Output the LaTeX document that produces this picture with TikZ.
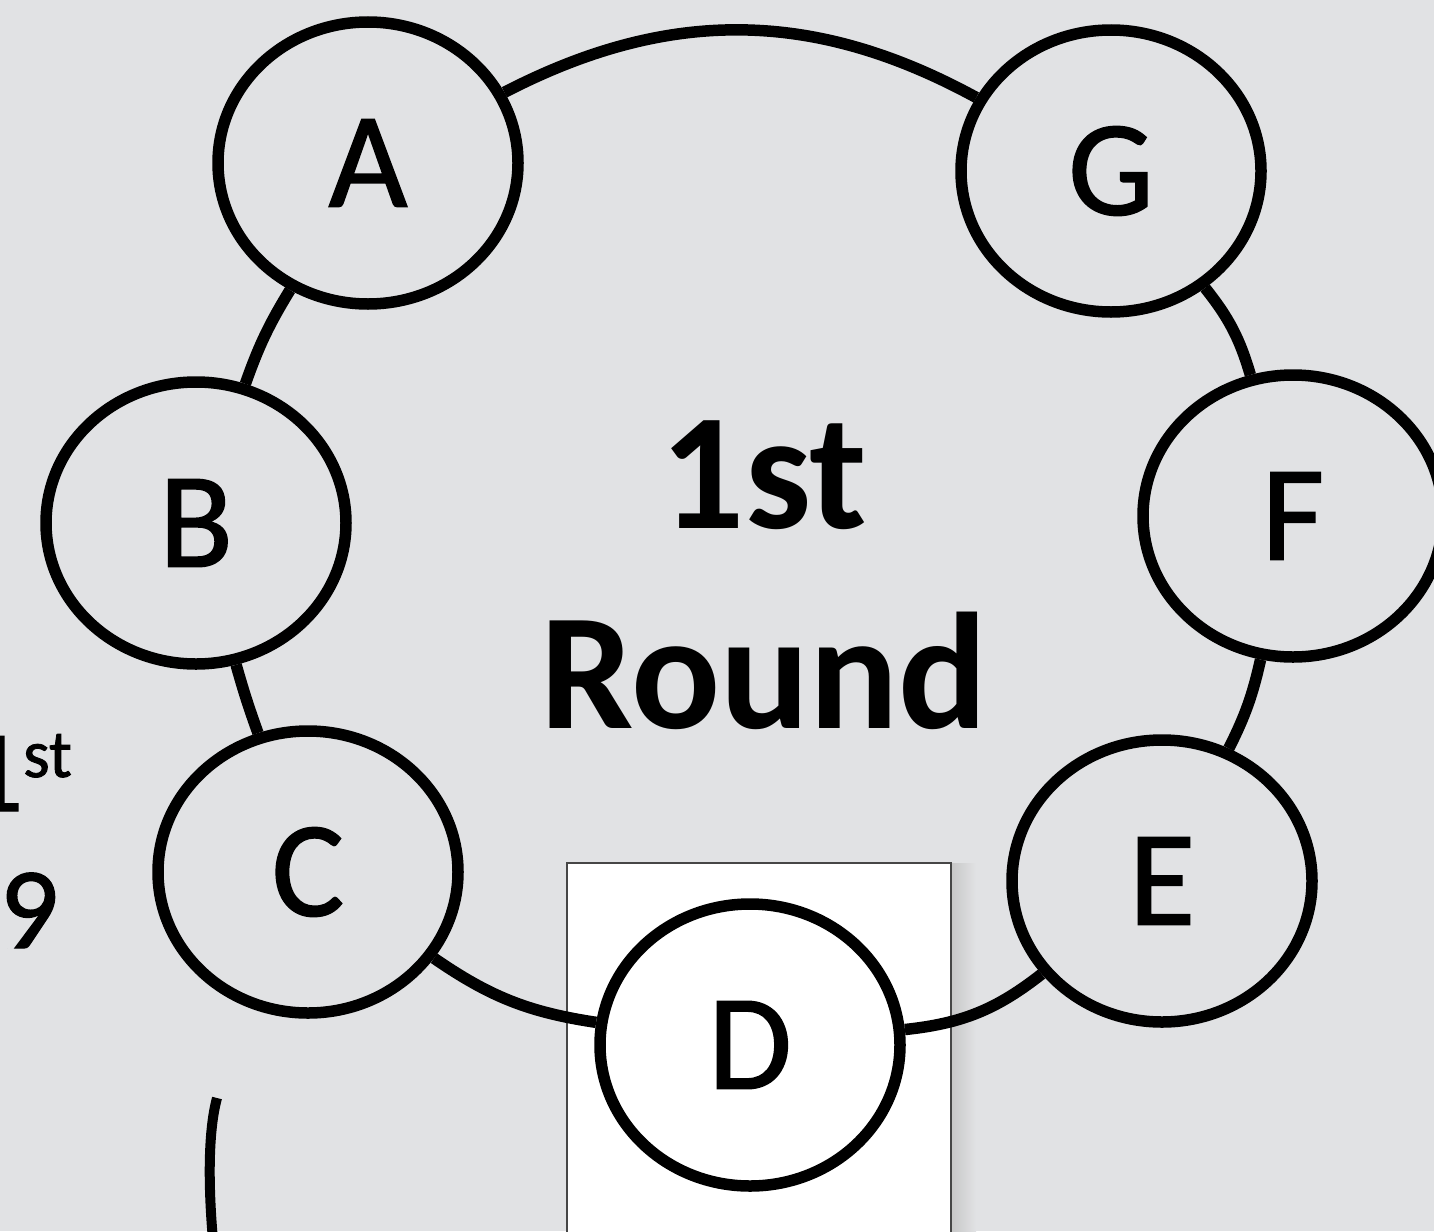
\documentclass[tikz,border=0pt]{standalone}
\usepackage{fontspec}
\setmainfont{Carlito}
\newfontfamily\seatfont[FakeBold=1.2]{Carlito}
\usetikzlibrary{shapes.geometric}
\definecolor{bg}{RGB}{225,226,228}
\definecolor{framegray}{RGB}{70,70,70}
\begin{document}
\begin{tikzpicture}[x=0.5pt,y=0.5pt,
  ring/.style={line width=5.75pt},
  seat/.style={ellipse, draw, line width=5.75pt, fill=bg, minimum width=150pt, minimum height=141pt, inner sep=0pt, font=\seatfont\fontsize{68}{68}\selectfont},
  title/.style={font=\bfseries\fontsize{83}{100}\selectfont, align=center, inner sep=0pt},
  side/.style={font=\seatfont\fontsize{58}{58}\selectfont, inner sep=0pt}]
\useasboundingbox (0,0) rectangle (1434,-1231);
\clip (0,0) rectangle (1434,-1231);
\fill[bg] (0,0) rectangle (1434,-1231);
% highlighted box with shadow
\shade[left color=black!22, right color=bg] (951,-863) rectangle (976,-1240);
\draw[framegray, fill=white, line width=1pt] (567,-863) rectangle (951,-1245);
% seats
\node[seat] (A) at (368,-163) {A};
\node[seat] (G) at (1111,-171) {G};
\node[seat] (B) at (196,-523) {B};
\node[seat] (F) at (1293,-516) {F};
\node[seat] (C) at (308,-872) {C};
\node[seat] (E) at (1162,-881) {E};
\node[seat, fill=white] (D) at (750,-1045) {D};
% ring
\draw[ring] (G) to[bend right=28] (A);
\draw[ring] (A) to[bend right=6] (B);
\draw[ring] (B) to[bend right=2] (C);
\draw[ring] (C) to[bend right=13] (D);
\draw[ring] (D) to[bend right=16] (E);
\draw[ring] (E) to[bend right=7] (F);
\draw[ring] (F) to[bend right=11] (G);
% title
\node[title] (T) at (764,-575) {1st\\Round};
% cut-off side texts
\node[side, anchor=base west] (S1) at (-36,-811) {1\raisebox{17pt}{\fontsize{34}{34}\selectfont st}};
\node[side, anchor=base east] (S2) at (59,-948) {9};
% cut-off curve
\coordinate (p1) at (217,-1098);
\coordinate (p2) at (213,-1240);
\draw[line width=5pt] (p1) .. controls (207,-1135) and (209,-1195) .. (p2);
\end{tikzpicture}
\end{document}
